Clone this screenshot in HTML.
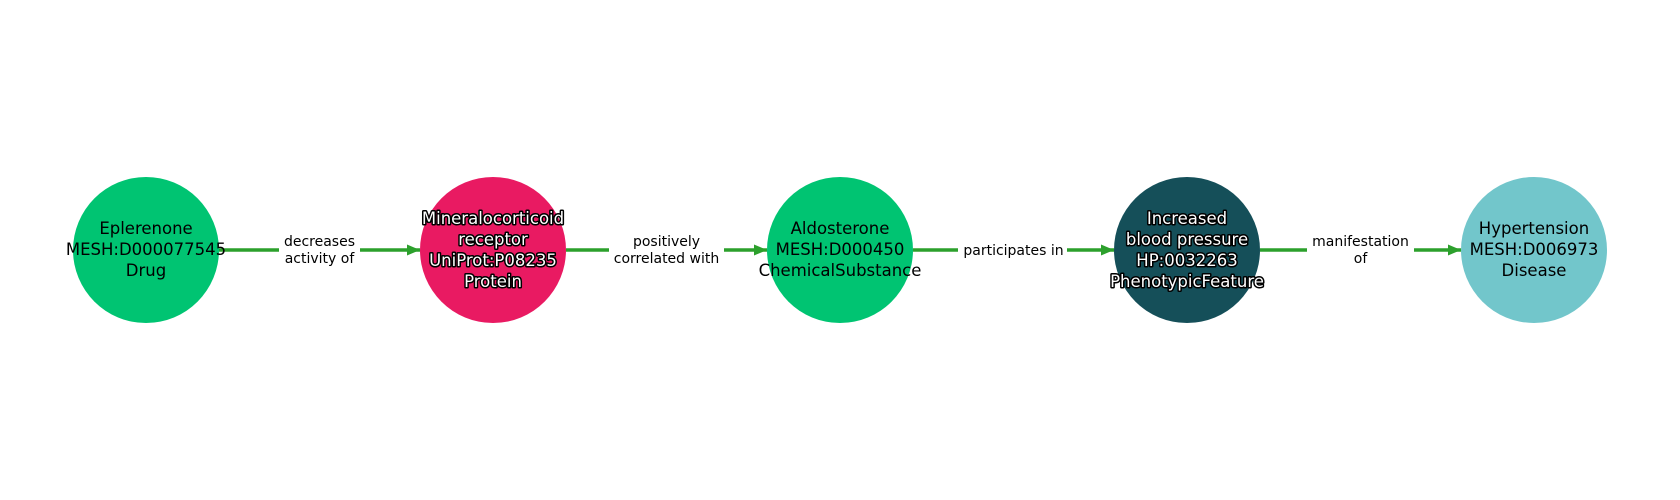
<!DOCTYPE html>
<html><head><meta charset="utf-8"><style>html,body{margin:0;padding:0;background:#fff}svg{display:block}</style></head>
<body>
<svg width="1680" height="500" viewBox="0 0 1680 500" xmlns="http://www.w3.org/2000/svg" font-family="DejaVu Sans, Liberation Sans, sans-serif">
<defs>
<marker id="a" markerWidth="13" markerHeight="11" refX="13" refY="5.5" orient="auto" markerUnits="userSpaceOnUse">
<path d="M0,0 L13,5.5 L0,11 Z" fill="#2ca02c"/></marker>
</defs>
<g stroke="#2ca02c" stroke-width="3.5">
<line x1="219" y1="250" x2="420" y2="250" marker-end="url(#a)"/>
<line x1="566" y1="250" x2="767" y2="250" marker-end="url(#a)"/>
<line x1="913" y1="250" x2="1114" y2="250" marker-end="url(#a)"/>
<line x1="1260" y1="250" x2="1461" y2="250" marker-end="url(#a)"/>
</g>
<g fill="#fff">
<rect x="279" y="231" width="81" height="38"/>
<rect x="609" y="231" width="115" height="38"/>
<rect x="958" y="240" width="109" height="20"/>
<rect x="1307" y="231" width="107" height="38"/>
</g>
<g font-size="14" fill="#000" text-anchor="middle">
<text x="319.5" y="246">decreases</text><text x="319.5" y="263">activity of</text>
<text x="666.5" y="246">positively</text><text x="666.5" y="263">correlated with</text>
<text x="1013.5" y="255">participates in</text>
<text x="1360.5" y="246">manifestation</text><text x="1360.5" y="263">of</text>
</g>
<circle cx="146" cy="250" r="73" fill="#00c472"/>
<circle cx="493" cy="250" r="73" fill="#e91a62"/>
<circle cx="840" cy="250" r="73" fill="#00c472"/>
<circle cx="1187" cy="250" r="73" fill="#154f59"/>
<circle cx="1534" cy="250" r="73" fill="#72c6cb"/>
<g font-size="16.5" text-anchor="middle" fill="#000">
<text x="146" y="234">Eplerenone</text><text x="146" y="255">MESH:D000077545</text><text x="146" y="276">Drug</text>
<text x="840" y="234">Aldosterone</text><text x="840" y="255">MESH:D000450</text><text x="840" y="276">ChemicalSubstance</text>
<text x="1534" y="234">Hypertension</text><text x="1534" y="255">MESH:D006973</text><text x="1534" y="276">Disease</text>
</g>
<g font-size="16.5" text-anchor="middle" fill="#fff" stroke="#000" stroke-width="3" paint-order="stroke" stroke-linejoin="round">
<text x="493" y="224">Mineralocorticoid</text><text x="493" y="245">receptor</text><text x="493" y="266">UniProt:P08235</text><text x="493" y="287">Protein</text>
<text x="1187" y="224">Increased</text><text x="1187" y="245">blood pressure</text><text x="1187" y="266">HP:0032263</text><text x="1187" y="287">PhenotypicFeature</text>
</g>
</svg>
</body></html>
